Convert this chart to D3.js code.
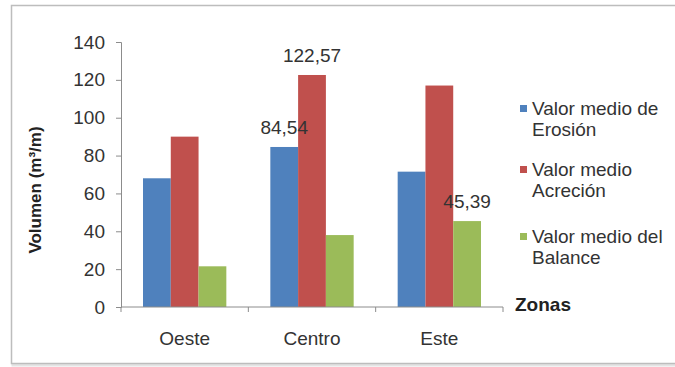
<!DOCTYPE html>
<html>
<head>
<meta charset="utf-8">
<script src="https://cdn.jsdelivr.net/npm/d3@7"></script>
<style>
  body { margin: 0; background: #fff; }
  svg { display: block; font-family: "Liberation Sans", Arial, sans-serif; }
</style>
</head>
<body>
<div id="chart"></div>
<script>
// Chart data
let zonas = ["Oeste", "Centro", "Este"];
let series = ["Valor medio de Erosión", "Valor medio Acreción", "Valor medio del Balance"];
let erosion = [68, 84.54, 71.5];
let acrecion = [90, 122.57, 117];
let balance = [21.5, 38, 45.39];
let yTicks = [0, 20, 40, 60, 80, 100, 120, 140];
// value labels shown in the picture: [serie index, zona index, text]
let valueLabels = [[0, 1, "84,54"], [1, 1, "122,57"], [2, 2, "45,39"]];
let legendLines = [["Valor medio de", "Erosión"], ["Valor medio", "Acreción"], ["Valor medio del", "Balance"]];

let colors = ["#4f81bd", "#c0504d", "#9bbb59"];
let values = [erosion, acrecion, balance];

let width = 675, height = 367;
let margin = {top: 42, left: 121, right: 172, bottom: 60};
let plotW = 503 - margin.left;
let plotH = 307 - margin.top;

let svg = d3.select("#chart").append("svg")
    .attr("width", width)
    .attr("height", height);

// outer frame with a soft shadow
svg.append("rect")
    .attr("x", 13).attr("y", 7)
    .attr("width", 700).attr("height", 358)
    .attr("fill", "none")
    .attr("stroke", "#e4e4e4")
    .attr("stroke-width", 3);
svg.append("rect")
    .attr("x", 11.5).attr("y", 5.5)
    .attr("width", 700).attr("height", 358)
    .attr("fill", "#fff")
    .attr("stroke", "#bdbdbd")
    .attr("stroke-width", 1.5);

let g = svg.append("g")
    .attr("transform", "translate(" + margin.left + "," + margin.top + ")");

let x = d3.scaleBand()
    .domain(zonas)
    .range([0, plotW])
    .paddingInner(0)
    .paddingOuter(0);

let x1 = d3.scaleBand()
    .domain(d3.range(series.length))
    .range([22, x.bandwidth() - 22]);

let y = d3.scaleLinear()
    .domain([0, 140])
    .range([plotH, 0]);

// bars
series.forEach(function(s, si) {
    g.selectAll(".bar-" + si)
        .data(values[si])
        .enter().append("rect")
        .attr("class", "bar-" + si)
        .attr("x", function(d, i) { return x(zonas[i]) + x1(si); })
        .attr("y", function(d) { return y(d); })
        .attr("width", x1.bandwidth())
        .attr("height", function(d) { return plotH - y(d); })
        .attr("fill", colors[si]);
});

// y axis
let yAxis = d3.axisLeft(y).tickValues(yTicks).tickSize(5).tickPadding(11);
let yG = g.append("g").call(yAxis);
yG.select(".domain").attr("stroke", "#8c8c8c");
yG.selectAll(".tick line").attr("stroke", "#8c8c8c");
yG.selectAll(".tick text")
    .attr("font-size", "19px")
    .attr("fill", "#333")
    .style("font-family", "Liberation Sans, Arial, sans-serif");

// x axis with ticks between categories
let xG = g.append("g").attr("transform", "translate(0," + plotH + ")");
xG.append("line")
    .attr("x1", 0).attr("x2", plotW)
    .attr("stroke", "#8c8c8c");
xG.selectAll(".xtick")
    .data(d3.range(zonas.length + 1))
    .enter().append("line")
    .attr("x1", function(i) { return i * x.bandwidth(); })
    .attr("x2", function(i) { return i * x.bandwidth(); })
    .attr("y1", 0).attr("y2", 5)
    .attr("stroke", "#8c8c8c");
xG.selectAll(".xlabel")
    .data(zonas)
    .enter().append("text")
    .attr("x", function(d) { return x(d) + x.bandwidth() / 2; })
    .attr("y", 38)
    .attr("text-anchor", "middle")
    .attr("font-size", "19px")
    .attr("fill", "#333")
    .text(function(d) { return d; });

// value labels
g.selectAll(".vlabel")
    .data(valueLabels)
    .enter().append("text")
    .attr("x", function(d) { return x(zonas[d[1]]) + x1(d[0]) + x1.bandwidth() / 2; })
    .attr("y", function(d) { return y(values[d[0]][d[1]]) - 13; })
    .attr("text-anchor", "middle")
    .attr("font-size", "19px")
    .attr("fill", "#333")
    .text(function(d) { return d[2]; });

// axis titles
svg.append("text")
    .attr("transform", "translate(41,190) rotate(-90)")
    .attr("text-anchor", "middle")
    .attr("font-size", "17px")
    .attr("font-weight", "bold")
    .attr("fill", "#222")
    .text("Volumen (m³/m)");

svg.append("text")
    .attr("x", 515).attr("y", 311)
    .attr("font-size", "19px")
    .attr("font-weight", "bold")
    .attr("fill", "#222")
    .text("Zonas");

// legend
let legend = svg.append("g").attr("transform", "translate(520,0)");
let legendY = [115, 176, 243];
legendLines.forEach(function(lines, i) {
    legend.append("rect")
        .attr("x", 0).attr("y", legendY[i] - 10)
        .attr("width", 7).attr("height", 7)
        .attr("fill", colors[i]);
    lines.forEach(function(t, j) {
        legend.append("text")
            .attr("x", 12)
            .attr("y", legendY[i] + j * 21)
            .attr("font-size", "19px")
            .attr("fill", "#333")
            .text(t);
    });
});
</script>
</body>
</html>
